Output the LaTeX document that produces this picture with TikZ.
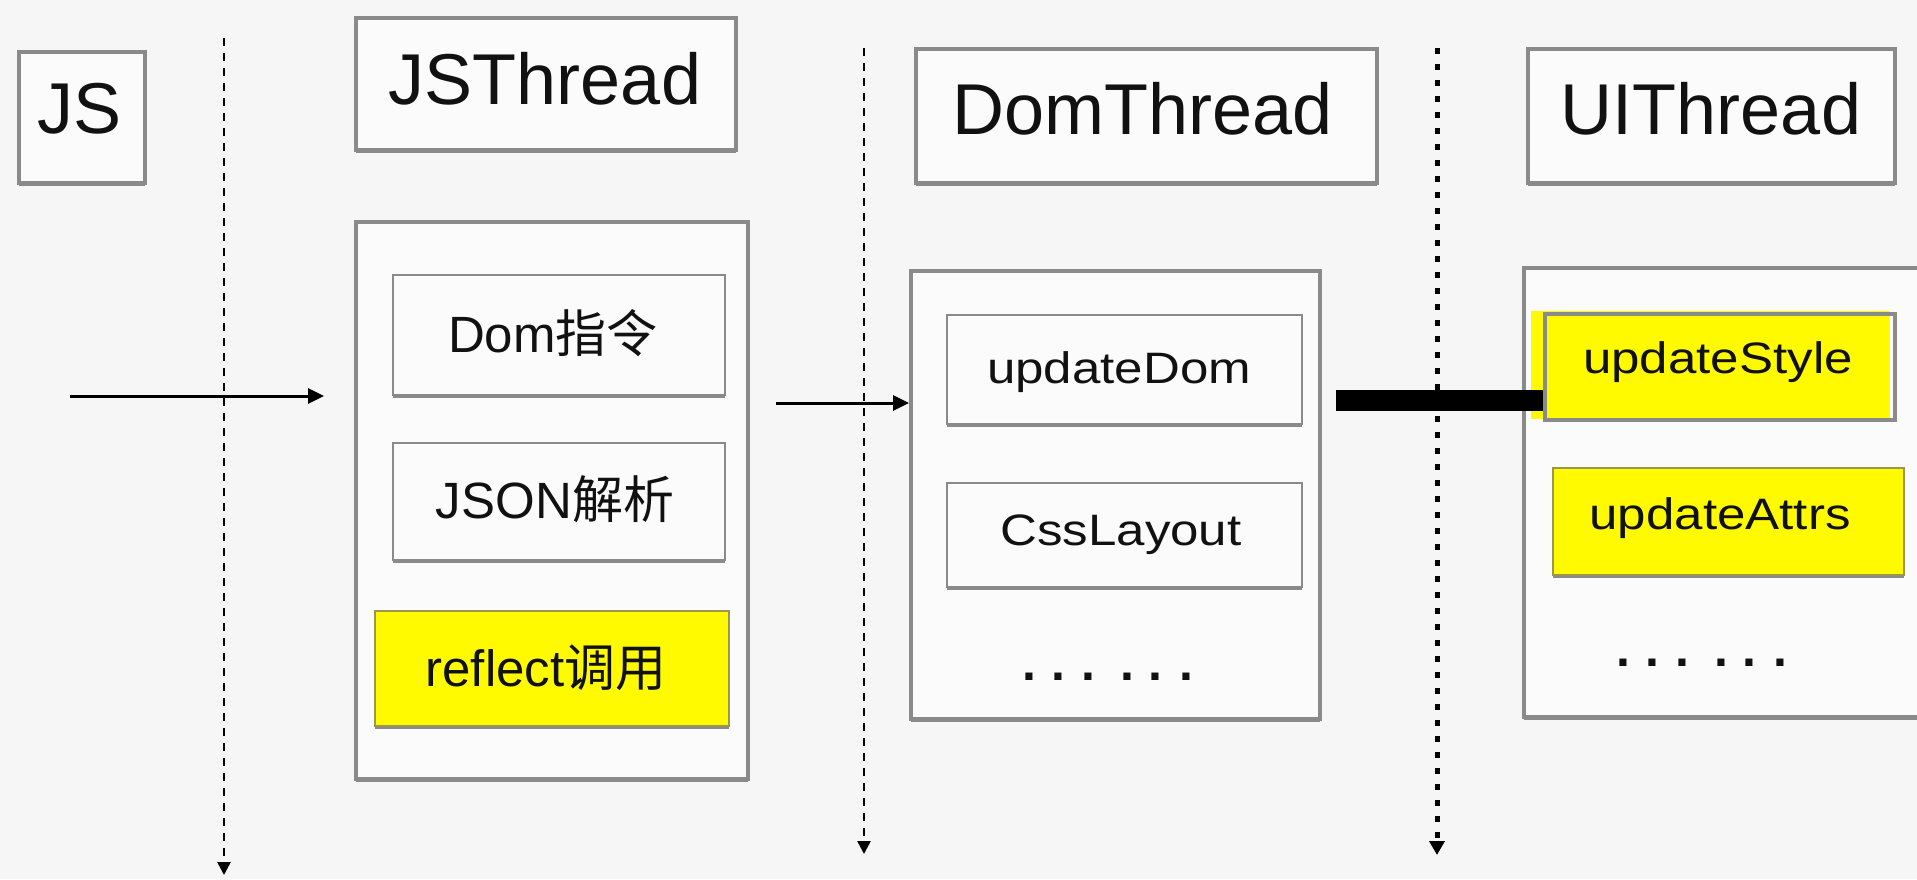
\documentclass[tikz,border=0pt]{standalone}
\usepackage{fontspec}
\setmainfont{Liberation Sans}
\newfontfamily\cjk{Noto Sans CJK SC}
\usetikzlibrary{arrows.meta,shadows}

\definecolor{bgcol}{HTML}{F6F6F6}
\definecolor{boxfill}{HTML}{FBFBFB}
\definecolor{framegray}{HTML}{8A8A8A}
\definecolor{hlyellow}{HTML}{FFFA00}
\definecolor{hlborder}{HTML}{9A9650}
\definecolor{ink}{HTML}{111111}

\newcommand\titlesize{\fontsize{72}{80}\selectfont}
\newcommand\itemsize{\fontsize{51}{58}\selectfont}
\newcommand\narrowsize{\fontsize{44}{50}\selectfont}
\newcommand\wide[1]{\scalebox{1.16}[1]{#1}}
% six ellipsis dots, in two groups of three
\newcommand\moredots{.\hspace{15pt}.\hspace{16pt}.\hspace{25pt}.\hspace{15pt}.\hspace{17pt}.}

\begin{document}
\begin{tikzpicture}[x=1pt,y=-1pt,
  boxshadow/.style={drop shadow={shadow xshift=0pt, shadow yshift=-2.5pt, fill=framegray, opacity=1}},
  frame/.style={draw=framegray, line width=4pt, fill=boxfill, inner sep=0pt, boxshadow},
  itembox/.style={draw=framegray, line width=2.5pt, fill=boxfill, inner sep=0pt, boxshadow},
  hlbox/.style={draw=hlborder, line width=2pt, fill=hlyellow, inner sep=0pt, boxshadow},
  hlframed/.style={draw=framegray, line width=4.5pt, inner sep=0pt},
  title/.style={anchor=base, text=ink, font=\titlesize, inner sep=0pt},
  label/.style={anchor=base, text=ink, font=\itemsize, inner sep=0pt},
  narrowlabel/.style={anchor=base, text=ink, font=\narrowsize, inner sep=0pt},
  dotrow/.style={anchor=base, text=ink, font=\fontsize{50}{56}\selectfont\bfseries, inner sep=0pt},
  flow/.style={draw=black, line width=3pt, -{Triangle[length=16pt,width=15pt]}},
  lifeline/.style={draw=black, line width=2.5pt, dash pattern=on 8pt off 7pt,
    -{Triangle[length=13pt,width=13pt]}},
  boldline/.style={draw=black, line width=5pt, dash pattern=on 6pt off 10pt,
    -{Triangle[length=14pt,width=15pt]}},
]
\useasboundingbox (0,0) rectangle (1917,879);
\clip (0,0) rectangle (1917,879);
\fill[bgcol] (0,0) rectangle (1917,879);

% --- JS column -------------------------------------------------------
\node[frame, minimum width=126pt, minimum height=131pt] (js) at (82,117.5) {};
\node[title] (js-t) at (80,133) {JS};

% --- JSThread column -------------------------------------------------
\node[frame, minimum width=380pt, minimum height=132pt] (jst) at (546,84) {};
\node[title] (jst-t) at (545,104) {JSThread};
\node[frame, minimum width=392pt, minimum height=557pt] (jsc) at (552,500.5) {};
\node[itembox, minimum width=332pt, minimum height=120pt] (domcmd) at (559,335) {};
\node[label] (domcmd-t) at (553,352) {Dom{\cjk 指令}};
\node[itembox, minimum width=332pt, minimum height=117pt] (json) at (559,501.5) {};
\node[label] (json-t) at (555,518) {JSON{\cjk 解析}};
\node[hlbox, minimum width=354pt, minimum height=115pt] (reflect) at (552,668.5) {};
\node[label] (reflect-t) at (546,686) {reflect{\cjk 调用}};

% --- DomThread column ------------------------------------------------
\node[frame, minimum width=461pt, minimum height=134pt] (domt) at (1146.5,116) {};
\node[title] (domt-t) at (1143,134) {DomThread};
\node[frame, minimum width=409pt, minimum height=448pt] (domc) at (1115.5,495) {};
\node[itembox, minimum width=355pt, minimum height=109pt] (udom) at (1124.5,369.5) {};
\node[narrowlabel] (udom-t) at (1119,383) {\wide{updateDom}};
\node[itembox, minimum width=355pt, minimum height=104pt] (css) at (1124.5,535) {};
\node[narrowlabel] (css-t) at (1121,545) {\wide{CssLayout}};
\node[dotrow] (domdots) at (1108,680) {\moredots};

% --- UIThread column -------------------------------------------------
\node[frame, minimum width=367pt, minimum height=134pt] (uit) at (1711.5,116) {};
\node[title] (uit-t) at (1711,134) {UIThread};
\node[frame, minimum width=420pt, minimum height=449pt] (uic) at (1734,492.5) {};
\fill[hlyellow] (1531,311) rectangle (1890,419);
\node[hlframed, minimum width=350pt, minimum height=106pt] (ustyle) at (1720,367) {};
\node[narrowlabel] (ustyle-t) at (1718,373) {\wide{updateStyle}};
\node[hlbox, minimum width=351pt, minimum height=107pt] (uattr) at (1728.5,521.5) {};
\node[narrowlabel] (uattr-t) at (1720,529) {\wide{updateAttrs}};
\node[dotrow] (uidots) at (1702,666) {\moredots};

% --- thread lifelines ------------------------------------------------
\coordinate (l1top) at (224,38);
\coordinate (l1end) at (224,875);
\coordinate (l2top) at (864,48);
\coordinate (l2end) at (864,854);
\coordinate (l3top) at (1437,48);
\coordinate (l3end) at (1437,855);
\draw[lifeline] (l1top) -- (l1end);
\draw[lifeline] (l2top) -- (l2end);
\draw[boldline] (l3top) -- (l3end);

% --- messages --------------------------------------------------------
\coordinate (call) at (70,396);
\coordinate (callend) at (324,396);
\draw[flow] (call) -- (callend);
\coordinate (post) at (776,403);
\draw[flow] (post) -- (domc.west |- post);
\coordinate (sync) at (1336,400.5);
\draw[line width=21pt] (sync) -- (ustyle.west |- sync);
\end{tikzpicture}
\end{document}
